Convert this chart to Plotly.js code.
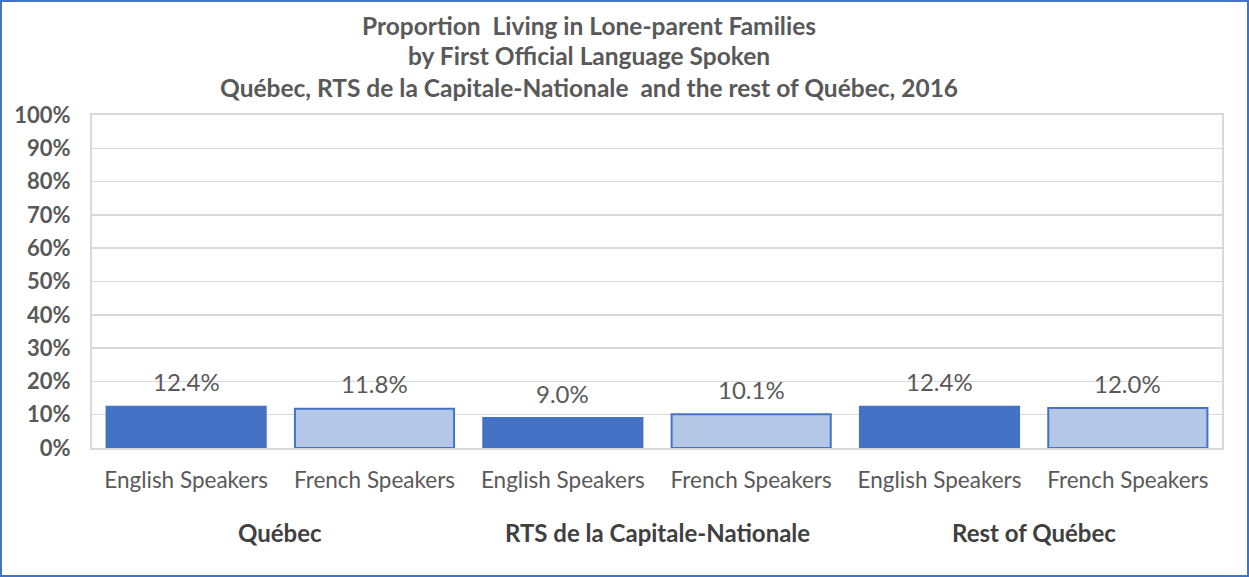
<!DOCTYPE html>
<html>
<head>
<meta charset="utf-8">
<script src="https://cdn.plot.ly/plotly-3.0.1.min.js"></script>
<style>html,body{margin:0;padding:0;background:#fff;}#chart{width:1249px;height:577px;}</style>
</head>
<body>
<div id="chart"></div>
<script>
const groups = ["Québec", "Québec", "RTS de la Capitale-Nationale", "RTS de la Capitale-Nationale", "Rest of Québec", "Rest of Québec"];
const speakers = ["English Speakers", "French Speakers", "English Speakers", "French Speakers", "English Speakers", "French Speakers"];
const values = [0.124, 0.118, 0.090, 0.101, 0.124, 0.120];
const labels = ["12.4%", "11.8%", "9.0%", "10.1%", "12.4%", "12.0%"];
const groupNames = ["Québec", "RTS de la Capitale-Nationale", "Rest of Québec"];
const titleLines = [
  "Proportion  Living in Lone-parent Families",
  "by First Official Language Spoken",
  "Québec, RTS de la Capitale-Nationale  and the rest of Québec, 2016"
];
const yTicks = [0, 0.1, 0.2, 0.3, 0.4, 0.5, 0.6, 0.7, 0.8, 0.9, 1.0];

const W = 1249, H = 577;
const m = {l: 92, r: 27, t: 115, b: 129};
const pw = W - m.l - m.r, ph = H - m.t - m.b;
const FONT = "Lato, 'Open Sans', sans-serif";
const py = p => (H - m.b - p) / ph;   // pixel row -> paper y
const px = p => (p - m.l) / pw;       // pixel col -> paper x

const keys = groups.map((g, i) => g + " | " + speakers[i]);
const fill = speakers.map(s => s.startsWith("English") ? "#4472C4" : "#B4C7E7");

const trace = {
  type: "bar",
  x: keys,
  y: values,
  marker: {color: fill, line: {color: "#4472C4", width: 2}},
  hoverinfo: "skip",
  showlegend: false
};

const annotations = [];
values.forEach((v, i) => annotations.push({
  x: keys[i], y: v, xref: "x", yref: "y",
  text: labels[i], showarrow: false, yshift: 25, yanchor: "middle",
  font: {family: FONT, size: 24, color: "#595959"}
}));
groupNames.forEach((g, j) => annotations.push({
  x: 2 * j + 0.5, xref: "x", y: py(532), yref: "paper",
  text: "<b>" + g + "</b>", showarrow: false, yanchor: "middle", xanchor: "center",
  font: {family: FONT, size: 24, color: "#404040"}
}));
const titleY = [25, 55, 88];
titleLines.forEach((t, k) => annotations.push({
  x: px(589), xref: "paper", y: py(titleY[k]), yref: "paper",
  text: "<b>" + t + "</b>", showarrow: false, yanchor: "middle", xanchor: "center",
  font: {family: FONT, size: 24.5, color: "#595959"}
}));

const layout = {
  width: W, height: H,
  margin: m,
  paper_bgcolor: "#ffffff", plot_bgcolor: "#ffffff",
  bargap: 0.155,
  xaxis: {
    type: "category",
    tickvals: keys, ticktext: speakers,
    showgrid: false,
    showline: true, linecolor: "#D9D9D9", linewidth: 2, mirror: true,
    ticks: "", ticklabelstandoff: 11,
    tickfont: {family: FONT, size: 22.5, color: "#595959"},
    fixedrange: true
  },
  yaxis: {
    range: [0, 1],
    tickvals: yTicks,
    tickformat: ".0%",
    showgrid: true, gridcolor: "#D9D9D9", gridwidth: 1.5,
    showline: true, linecolor: "#D9D9D9", linewidth: 2, mirror: true,
    zeroline: false,
    ticks: "", ticklabelstandoff: 15,
    tickfont: {family: FONT, size: 22, color: "#595959", weight: "bold"},
    fixedrange: true
  },
  annotations: annotations,
  shapes: [{
    type: "rect", xref: "paper", yref: "paper",
    x0: (1 - m.l) / pw, x1: 1 + (m.r - 1) / pw,
    y0: -(m.b - 1) / ph, y1: 1 + (m.t - 1) / ph,
    line: {color: "#4472C4", width: 2}, fillcolor: "rgba(0,0,0,0)"
  }]
};

Plotly.newPlot("chart", [trace], layout, {displayModeBar: false, staticPlot: true});
</script>
</body>
</html>
